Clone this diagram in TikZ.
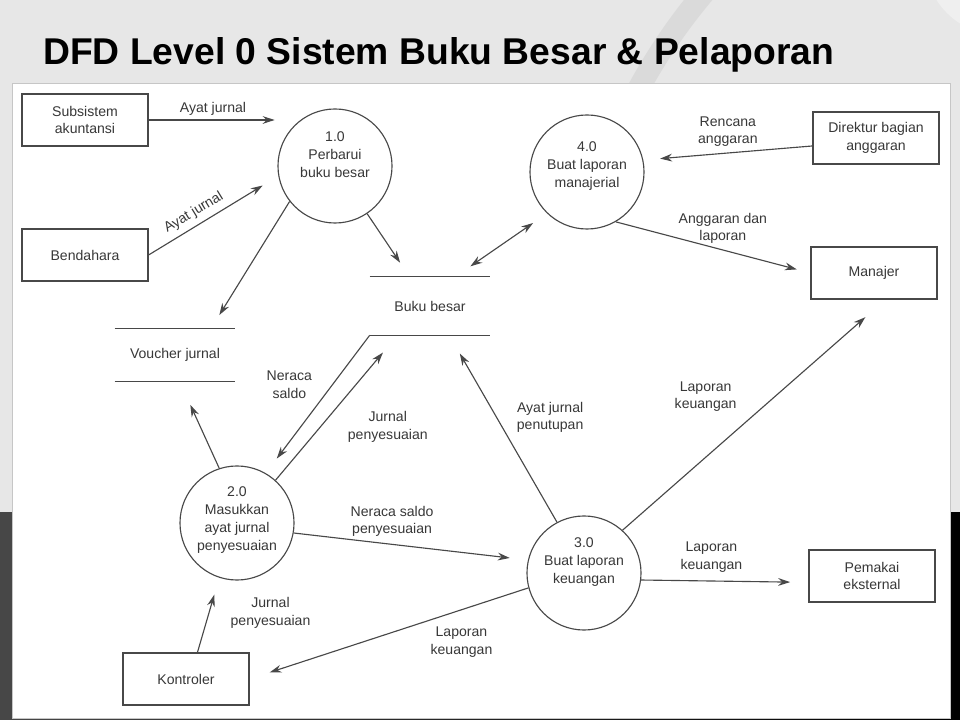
\documentclass[tikz,border=0pt]{standalone}
\usepackage{fontspec}
\setmainfont{Liberation Sans}
\usetikzlibrary{arrows.meta,calc}
\definecolor{slidebg}{HTML}{E7E7E7}
\definecolor{swoosh}{HTML}{DADADA}
\definecolor{corner}{HTML}{EFEFEF}
\definecolor{inkgray}{HTML}{383838}
\definecolor{linegray}{HTML}{484848}

\begin{document}
\begin{tikzpicture}[x=0.025cm, y=-0.025cm, >={Stealth[length=8.5pt,width=5.5pt]},
    every node/.style={font=\fontsize{10}{12.5}\selectfont, text=inkgray},
    entity/.style={draw=linegray, line width=0.8pt, minimum width=3.15cm, minimum height=1.3cm, align=center},
    proc/.style={circle, draw=linegray, line width=0.8pt, minimum size=2.85cm},
    ptext/.style={align=center, font=\fontsize{10}{12.8}\selectfont},
    store/.style={minimum width=3cm},
    flow/.style={draw=linegray, line width=0.8pt},
    lbl/.style={align=center, inner sep=2pt}]
    \useasboundingbox (0,0) rectangle (960,720);

    % Slide background
    \fill[slidebg] (0,0) rectangle (960,720);
    \begin{scope}
        \clip (0,0) rectangle (960,90);
        \draw[swoosh, line width=0.55cm] (1140,360) circle[radius=570];
        \fill[corner] (1000,-40) circle[radius=75];
    \end{scope}
    \shade[left color=black!72, right color=black] (0,513) rectangle (960,720);
    \draw[gray!45, fill=white] (12,83) rectangle (950,718);

    % Title
    \node[anchor=base west, inner sep=0, text=black, font=\bfseries\fontsize{26.5}{30}\selectfont] (title) at (43,65) {DFD Level 0 Sistem Buku Besar \& Pelaporan};

    % External entities
    \node[entity] (sub) at (85,120) {Subsistem\\akuntansi};
    \node[entity] (bend) at (85,255) {Bendahara};
    \node[entity] (dir) at (876,138) {Direktur bagian\\anggaran};
    \node[entity] (man) at (874,273) {Manajer};
    \node[entity] (pem) at (872,576) {Pemakai\\eksternal};
    \node[entity] (kon) at (186,679) {Kontroler};

    % Processes
    \node[proc, label={[ptext, yshift=8pt]center:{1.0\\Perbarui\\buku besar}}] (p1) at (335,166) {};
    \node[proc, label={[ptext, yshift=2pt]center:{2.0\\Masukkan\\ayat jurnal\\penyesuaian}}] (p2) at (237,523) {};
    \node[proc, label={[ptext, yshift=8pt]center:{3.0\\Buat laporan\\keuangan}}] (p3) at (584,573) {};
    \node[proc, label={[ptext, yshift=4pt]center:{4.0\\Buat laporan\\manajerial}}] (p4) at (587,172) {};

    % Data stores
    \node[store, minimum height=1.45cm] (bb) at (430,306) {Buku besar};
    \draw[flow] (bb.north west) -- (bb.north east) (bb.south west) -- (bb.south east);
    \node[store, minimum height=1.325cm] (vj) at (175,355) {Voucher jurnal};
    \draw[flow] (vj.north west) -- (vj.north east) (vj.south west) -- (vj.south east);

    % Flows around 1.0
    \draw[flow, ->, shorten >=2pt] (sub.east) -- (sub.east -| p1.west)
        node[midway, above=1pt, lbl] {Ayat jurnal};
    \draw[flow, ->, shorten >=13pt] (bend.east) -- (p1.190)
        node[pos=0.4, above=2pt, sloped, lbl] {Ayat jurnal};
    \draw[flow, ->, shorten >=11pt] (p1.218) -- ($(vj.north west)!0.8!(vj.north east)$);
    \draw[flow, ->, shorten >=12pt] (p1.304) -- ($(bb.north west)!0.33!(bb.north east)$);

    % Flows around 4.0
    \draw[flow, <->, shorten <=13pt, shorten >=12pt] ($(bb.north west)!0.71!(bb.north east)$) -- (p4.226);
    \draw[flow, ->, shorten >=12pt] ($(dir.north west)!0.65!(dir.south west)$) -- (p4.12)
        node[midway, above=2pt, lbl] {Rencana\\anggaran};
    \draw[flow, ->, shorten >=10pt] (p4.300) -- (man.west)
        node[pos=0.55, above=2pt, lbl] {Anggaran dan\\laporan};

    % Flows around 2.0
    \draw[flow, ->, shorten >=13pt] (bb.south west) -- (p2.60)
        node[pos=0.36, left=12pt, lbl] {Neraca\\saldo};
    \draw[flow, ->, shorten >=16pt] (p2.48) -- ($(bb.south west)!0.23!(bb.south east)$)
        node[pos=0.37, right=17pt, lbl] {Jurnal\\penyesuaian};
    \draw[flow, ->, shorten >=18pt] (p2.108) -- ($(vj.south west)!0.54!(vj.south east)$);
    \draw[flow, ->, shorten >=13pt] (p2.350) -- (p3.167)
        node[pos=0.42, above=3pt, lbl] {Neraca saldo\\penyesuaian};
    \draw[flow, ->, shorten >=12.5pt] ($(kon.north west)!0.59!(kon.north east)$) -- (p2.252)
        node[pos=0.53, right=13pt, lbl] {Jurnal\\penyesuaian};

    % Flows around 3.0
    \draw[flow, ->, shorten >=15pt] (p3.118) -- ($(bb.south west)!0.66!(bb.south east)$)
        node[pos=0.56, right=12pt, lbl] {Ayat jurnal\\penutupan};
    \draw[flow, ->, shorten >=19pt] (p3.48) -- ($(man.south west)!0.59!(man.south east)$)
        node[pos=0.58, left=25pt, lbl] {Laporan\\keuangan};
    \draw[flow, ->, shorten >=13pt] (p3.353) -- ($(pem.north west)!0.62!(pem.south west)$)
        node[pos=0.42, above=4pt, lbl] {Laporan\\keuangan};
    \draw[flow, ->, shorten >=15pt] (p3.195) -- (kon.east)
        node[pos=0.24, below=10pt, lbl] {Laporan\\keuangan};
\end{tikzpicture}
\end{document}
